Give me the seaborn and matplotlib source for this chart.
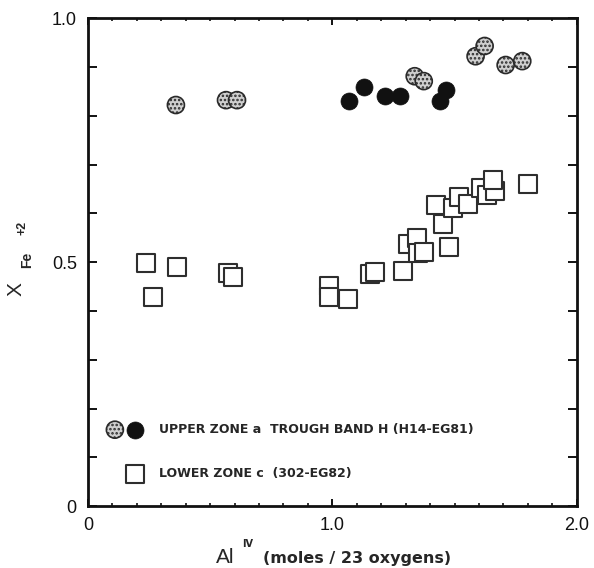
import matplotlib
matplotlib.use('Agg')
import matplotlib.pyplot as plt
from matplotlib.ticker import FixedLocator, FixedFormatter
from matplotlib.lines import Line2D
from matplotlib.legend_handler import HandlerTuple
import seaborn as sns
import pandas as pd

# --- data -----------------------------------------------------------------
# Upper zone a, stippled circles
stip_x = [0.36, 0.565, 0.61, 1.337, 1.374, 1.586, 1.623, 1.709, 1.777]
stip_y = [0.822, 0.832, 0.832, 0.881, 0.871, 0.922, 0.943, 0.904, 0.912]
# Trough band H, solid circles
solid_x = [1.067, 1.128, 1.214, 1.276, 1.440, 1.464]
solid_y = [0.831, 0.859, 0.841, 0.841, 0.831, 0.852]
# Lower zone c, open squares
sq_x = [0.236, 0.363, 0.265, 0.573, 0.594, 0.987, 0.985, 1.066, 1.153, 1.173,
        1.290, 1.310, 1.348, 1.351, 1.374, 1.478, 1.451, 1.423, 1.494, 1.519,
        1.556, 1.610, 1.633, 1.665, 1.658, 1.801]
sq_y = [0.499, 0.489, 0.429, 0.478, 0.470, 0.451, 0.429, 0.424, 0.475, 0.480,
        0.482, 0.538, 0.550, 0.518, 0.520, 0.531, 0.579, 0.618, 0.610, 0.633,
        0.619, 0.651, 0.637, 0.645, 0.668, 0.661]

legend_labels = ['UPPER ZONE a  TROUGH BAND H (H14-EG81)', 'LOWER ZONE c  (302-EG82)']
x_major = [0.0, 1.0, 2.0]
x_major_labels = ['0', '1.0', '2.0']
x_minor = [i / 10 for i in range(21)]
y_ticks = [i / 10 for i in range(11)]
y_tick_labels = ['0', '', '', '', '', '0.5', '', '', '', '', '1.0']

sns.set_style('ticks')
plt.rcParams['font.family'] = ['Liberation Sans', 'DejaVu Sans']
plt.rcParams['hatch.linewidth'] = 1.2

fig, ax = plt.subplots(figsize=(5.94, 5.68), dpi=100)
fig.subplots_adjust(left=0.148, right=0.971, bottom=0.109, top=0.968)

df_sq = pd.DataFrame({'x': sq_x, 'y': sq_y})
df_stip = pd.DataFrame({'x': stip_x, 'y': stip_y})
df_solid = pd.DataFrame({'x': solid_x, 'y': solid_y})

sns.scatterplot(data=df_sq, x='x', y='y', marker='s', s=150, facecolor='white',
                edgecolor='#2e2e2e', linewidth=1.5, ax=ax, zorder=3)
sns.scatterplot(data=df_solid, x='x', y='y', marker='o', s=150, color='#111111',
                edgecolor='#111111', linewidth=0.5, ax=ax, zorder=4)
sns.scatterplot(data=df_stip, x='x', y='y', marker='o', s=150, facecolor='#cfcfcf',
                edgecolor='#2a2a2a', linewidth=1.2, hatch='....', ax=ax, zorder=4)

ax.set_xlim(0, 2)
ax.set_ylim(0, 1)
ax.set_xlabel('')
ax.set_ylabel('')

for side in ['left', 'right', 'top', 'bottom']:
    ax.spines[side].set_visible(True)
    ax.spines[side].set_linewidth(2.0)
    ax.spines[side].set_color('#111111')

ax.xaxis.set_major_locator(FixedLocator(x_major))
ax.xaxis.set_major_formatter(FixedFormatter(x_major_labels))
ax.xaxis.set_minor_locator(FixedLocator(x_minor))
ax.yaxis.set_major_locator(FixedLocator(y_ticks))
ax.yaxis.set_major_formatter(FixedFormatter(y_tick_labels))

ax.tick_params(axis='both', which='both', direction='in', top=True, right=True,
               color='#111111', labelsize=13, labelcolor='#111111')
ax.tick_params(axis='x', which='major', length=5, width=1.4, pad=8)
ax.tick_params(axis='x', which='minor', length=2.5, width=1.2)
ax.tick_params(axis='y', which='major', length=6.5, width=1.4, pad=8)

# legend
h_stip, h_solid = ax.collections[2], ax.collections[1]
h_sq = ax.collections[0]
blank = Line2D([], [], ls='', marker='')
leg = ax.legend([(h_stip, h_solid), (blank, h_sq)], legend_labels,
                handler_map={tuple: HandlerTuple(ndivide=None, pad=0.1)},
                loc='lower left', bbox_to_anchor=(0.036, 0.053), frameon=False,
                scatterpoints=1, handlelength=3.1, handletextpad=1.2,
                labelspacing=2.5, borderpad=0, borderaxespad=0,
                prop={'family': 'DejaVu Sans', 'weight': 'bold', 'size': 9})

# axis titles built from pieces to get the sub/superscripts placed as printed
W, H = 594, 568
fig.text(216 / W, 1 - 563 / H, 'Al', fontsize=15, ha='left', va='baseline')
fig.text(242 / W, 1 - 547 / H, 'IV', fontsize=7, fontweight='bold', family='DejaVu Sans',
         ha='left', va='baseline')
fig.text(263 / W, 1 - 563 / H, '(moles / 23 oxygens)', fontsize=11.5, fontweight='bold',
         family='DejaVu Sans', ha='left', va='baseline')
fig.text(16 / W, 1 - 289 / H, 'X', fontsize=15, rotation=90, ha='center', va='center')
fig.text(27 / W, 1 - 260 / H, 'Fe', fontsize=10, fontweight='bold', rotation=90,
         ha='center', va='center')
fig.text(22 / W, 1 - 228 / H, '+2', fontsize=9, fontweight='bold', rotation=90,
         ha='center', va='center')

plt.savefig('out.png', dpi=100)
plt.close()
